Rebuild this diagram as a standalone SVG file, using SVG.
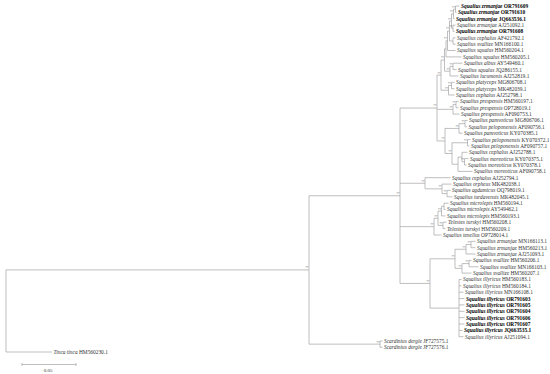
<svg xmlns="http://www.w3.org/2000/svg" width="550" height="374" viewBox="0 0 550 374">
<style>
.e{fill:none;stroke:#a3a3a3;stroke-width:0.7}
text{font-family:"Liberation Serif","Times New Roman",serif;font-size:5.4px;fill:#333}
.b{font-weight:bold;fill:#000}
.i{font-style:italic}
.s{font-size:3px;text-anchor:end;fill:#666}
.sc{font-size:5px;text-anchor:middle}
</style>
<rect width="550" height="374" fill="#fff"/>
<g id="connectors" class="e">
<path d="M455.5,6V12.4M455.5,6H459.5M455.5,12.4H456.5"/>
<path d="M453.5,9.2V18.7M453.5,9.2H455.5M453.5,18.7H454.5"/>
<path d="M453,25.1V31.4M453,25.1H455.5M453,31.4H454.5"/>
<path d="M451.5,13.95V28.25M451.5,13.95H453.5M451.5,28.25H453"/>
<path d="M453,37.8V44.2M453,37.8H455.5M453,44.2H455.5"/>
<path d="M449.5,21.1V41M449.5,21.1H451.5M449.5,41H453"/>
<path d="M447.5,31.05V50.5M447.5,31.05H449.5M447.5,50.5H455.5"/>
<path d="M446,40.78V56.9M446,40.78H447.5M446,56.9H461.5"/>
<path d="M453,63.2V69.6M453,63.2H462.5M453,69.6H456.5"/>
<path d="M450,66.4V76M450,66.4H453M450,76H458.5"/>
<path d="M444.5,48.84V71.2M444.5,48.84H446M444.5,71.2H450"/>
<path d="M451.5,82.3V88.7M451.5,82.3H454.5M451.5,88.7H454.5"/>
<path d="M448.5,85.5V95M448.5,85.5H451.5M448.5,95H454.5"/>
<path d="M441,60.02V90.25M441,60.02H444.5M441,90.25H448.5"/>
<path d="M456,101.4V107.8M456,101.4H458.5M456,107.8H458.5"/>
<path d="M453,104.6V114.1M453,104.6H456M453,114.1H459.5"/>
<path d="M465,120.5V126.8M465,120.5H467.5M465,126.8H467"/>
<path d="M459,123.65V133.2M459,123.65H465M459,133.2H462.5"/>
<path d="M467.5,139.6V145.9M467.5,139.6H470.5M467.5,145.9H469.5"/>
<path d="M464.5,158.6V165M464.5,158.6H468.5M464.5,165H466.5"/>
<path d="M462,152.3V161.8M462,152.3H467.5M462,161.8H464.5"/>
<path d="M458,157.05V171.4M458,157.05H462M458,171.4H472.5"/>
<path d="M452,142.75V164.23M452,142.75H467.5M452,164.23H458"/>
<path d="M445,128.43V153.49M445,128.43H459M445,153.49H452"/>
<path d="M437,75.14V140.96M437,75.14H441M437,109.35H453M437,140.96H445"/>
<path d="M447,190.4V196.8M447,190.4H450.5M447,196.8H452.5"/>
<path d="M442,184.1V193.6M442,184.1H451.5M442,193.6H447"/>
<path d="M425,177.7V188.85M425,177.7H450.5M425,188.85H442"/>
<path d="M444,203.2V209.5M444,203.2H448.5M444,209.5H445.5"/>
<path d="M441.5,206.35V215.9M441.5,206.35H444M441.5,215.9H445.5"/>
<path d="M443,222.2V228.6M443,222.2H446.5M443,228.6H445.5"/>
<path d="M438,211.13V225.4M438,211.13H441.5M438,225.4H443"/>
<path d="M434,218.26V235M434,218.26H438M434,235H441.5"/>
<path d="M471,241.3V247.7M471,241.3H475.5M471,247.7H475.5"/>
<path d="M466,244.5V254M466,244.5H471M466,254H475.5"/>
<path d="M469,260.4V266.8M469,260.4H471.5M469,266.8H478.5"/>
<path d="M462,263.6V273.1M462,263.6H469M462,273.1H471.5"/>
<path d="M455,249.25V268.35M455,249.25H466M455,268.35H462"/>
<path d="M459,279.5V336.7M459,279.5H461.5M459,285.8H461.5M459,292.2H463.5M459,298.6H464.5M459,304.9H464.5M459,311.3H464.5M459,317.6H464.5M459,324H464.5M459,330.4H462.5M459,336.7H463.5"/>
<path d="M430,258.8V308.1M430,258.8H455M430,308.1H459"/>
<path d="M400,108.05V283.45M400,108.05H437M400,183.28H425M400,226.63H434M400,283.45H430"/>
<path d="M309,195.75V344.15M309,195.75H400M309,344.15H380"/>
<path d="M380,341V347.3M380,341H382.5M380,347.3H382.5"/>
<path d="M6,269.9V352M6,269.9H309M6,352H52"/>
</g>
<g id="support">
<text class="s" x="455" y="8.6">**</text>
<text class="s" x="453" y="13.3">**</text>
<text class="s" x="452.5" y="27.6">**</text>
<text class="s" x="451" y="20.5">**</text>
<text class="s" x="449" y="30.4">**</text>
<text class="s" x="447" y="40.2">**</text>
<text class="s" x="452.5" y="65.8">**</text>
<text class="s" x="449.5" y="70.6">**</text>
<text class="s" x="444" y="59.4">**</text>
<text class="s" x="451" y="84.9">**</text>
<text class="s" x="448" y="89.6">**</text>
<text class="s" x="440.5" y="74.5">**</text>
<text class="s" x="455.5" y="104">**</text>
<text class="s" x="452.5" y="108.7">**</text>
<text class="s" x="436.5" y="107.4">**</text>
<text class="s" x="464.5" y="123">**</text>
<text class="s" x="458.5" y="127.8">**</text>
<text class="s" x="467" y="142.1">**</text>
<text class="s" x="464" y="161.2">**</text>
<text class="s" x="451.5" y="152.9">**</text>
<text class="s" x="444.5" y="140.3">**</text>
<text class="s" x="446.5" y="193">**</text>
<text class="s" x="441.5" y="188.2">**</text>
<text class="s" x="424.5" y="182.7">**</text>
<text class="s" x="441" y="210.5">**</text>
<text class="s" x="442.5" y="224.8">**</text>
<text class="s" x="437.5" y="217.6">**</text>
<text class="s" x="433.5" y="226">**</text>
<text class="s" x="470.5" y="243.9">**</text>
<text class="s" x="465.5" y="248.6">**</text>
<text class="s" x="468.5" y="263">**</text>
<text class="s" x="461.5" y="267.7">**</text>
<text class="s" x="454.5" y="258.2">**</text>
<text class="s" x="429.5" y="282.8">**</text>
<text class="s" x="399.5" y="195.1">**</text>
<text class="s" x="308.5" y="269.3">**</text>
<text class="s" x="379.5" y="343.5">**</text>
</g>
<g id="tip-OR791609"><text class="b" x="461" y="7.9"><tspan class="i">Squalius zrmanjae</tspan> OR791609</text></g>
<g id="tip-OR791610"><text class="b" x="458" y="14.3"><tspan class="i">Squalius zrmanjae</tspan> OR791610</text></g>
<g id="tip-JQ663536"><text class="b" x="456" y="20.6"><tspan class="i">Squalius zrmanjae</tspan> JQ663536.1</text></g>
<g id="tip-AJ251092"><text x="457" y="27"><tspan class="i">Squalius zrmanjae</tspan> AJ251092.1</text></g>
<g id="tip-OR791608"><text class="b" x="456" y="33.3"><tspan class="i">Squalius zrmanjae</tspan> OR791608</text></g>
<g id="tip-AF421792"><text x="457" y="39.7"><tspan class="i">Squalius cephalus</tspan> AF421792.1</text></g>
<g id="tip-MN166100"><text x="457" y="46.1"><tspan class="i">Squalius svallize</tspan> MN166100.1</text></g>
<g id="tip-HM560204"><text x="457" y="52.4"><tspan class="i">Squalius squalus</tspan> HM560204.1</text></g>
<g id="tip-HM560205"><text x="463" y="58.8"><tspan class="i">Squalius squalus</tspan> HM560205.1</text></g>
<g id="tip-AY549460"><text x="464" y="65.1"><tspan class="i">Squalius albus</tspan> AY549460.1</text></g>
<g id="tip-JQ286155"><text x="458" y="71.5"><tspan class="i">Squalius squalus</tspan> JQ286155.1</text></g>
<g id="tip-AJ252819"><text x="460" y="77.9"><tspan class="i">Squalius lucumonis</tspan> AJ252819.1</text></g>
<g id="tip-MG806708"><text x="456" y="84.2"><tspan class="i">Squalius platyceps</tspan> MG806708.1</text></g>
<g id="tip-MK482039"><text x="456" y="90.6"><tspan class="i">Squalius platyceps</tspan> MK482039.1</text></g>
<g id="tip-AJ252798"><text x="456" y="96.9"><tspan class="i">Squalius cephalus</tspan> AJ252798.1</text></g>
<g id="tip-HM560197"><text x="460" y="103.3"><tspan class="i">Squalius prespensis</tspan> HM560197.1</text></g>
<g id="tip-OP728019"><text x="460" y="109.7"><tspan class="i">Squalius prespensis</tspan> OP728019.1</text></g>
<g id="tip-AF090753"><text x="461" y="116"><tspan class="i">Squalius prespensis</tspan> AF090753.1</text></g>
<g id="tip-MG806706"><text x="469" y="122.4"><tspan class="i">Squalius pamvoticus</tspan> MG806706.1</text></g>
<g id="tip-AF090756"><text x="468.5" y="128.7"><tspan class="i">Squalius peloponensis</tspan> AF090756.1</text></g>
<g id="tip-KY070385"><text x="464" y="135.1"><tspan class="i">Squalius pamvoticus</tspan> KY070385.1</text></g>
<g id="tip-KY070372"><text x="472" y="141.5"><tspan class="i">Squalius peloponensis</tspan> KY070372.1</text></g>
<g id="tip-AF090757"><text x="471" y="147.8"><tspan class="i">Squalius peloponensis</tspan> AF090757.1</text></g>
<g id="tip-AJ252788"><text x="469" y="154.2"><tspan class="i">Squalius cephalus</tspan> AJ252788.1</text></g>
<g id="tip-KY070375"><text x="470" y="160.5"><tspan class="i">Squalius moreoticus</tspan> KY070375.1</text></g>
<g id="tip-KY070378"><text x="468" y="166.9"><tspan class="i">Squalius moreoticus</tspan> KY070378.1</text></g>
<g id="tip-AF090758"><text x="474" y="173.3"><tspan class="i">Squalius moreoticus</tspan> AF090758.1</text></g>
<g id="tip-AJ252794"><text x="452" y="179.6"><tspan class="i">Squalius cephalus</tspan> AJ252794.1</text></g>
<g id="tip-MK482038"><text x="453" y="186"><tspan class="i">Squalius orpheus</tspan> MK482038.1</text></g>
<g id="tip-OQ798019"><text x="452" y="192.3"><tspan class="i">Squalius agdamicus</tspan> OQ798019.1</text></g>
<g id="tip-MK482045"><text x="454" y="198.7"><tspan class="i">Squalius turdavensis</tspan> MK482045.1</text></g>
<g id="tip-HM560194"><text x="450" y="205.1"><tspan class="i">Squalius microlepis</tspan> HM560194.1</text></g>
<g id="tip-AY549462"><text x="447" y="211.4"><tspan class="i">Squalius microlepis</tspan> AY549462.1</text></g>
<g id="tip-HM560193"><text x="447" y="217.8"><tspan class="i">Squalius microlepis</tspan> HM560193.1</text></g>
<g id="tip-HM560208"><text x="448" y="224.1"><tspan class="i">Telestes turskyi</tspan> HM560208.1</text></g>
<g id="tip-HM560209"><text x="447" y="230.5"><tspan class="i">Telestes turskyi</tspan> HM560209.1</text></g>
<g id="tip-OP728014"><text x="443" y="236.9"><tspan class="i">Squalius tenellus</tspan> OP728014.1</text></g>
<g id="tip-MN166113"><text x="477" y="243.2"><tspan class="i">Squalius zrmanjae</tspan> MN166113.1</text></g>
<g id="tip-HM560213"><text x="477" y="249.6"><tspan class="i">Squalius zrmanjae</tspan> HM560213.1</text></g>
<g id="tip-AJ251093"><text x="477" y="255.9"><tspan class="i">Squalius zrmanjae</tspan> AJ251093.1</text></g>
<g id="tip-HM560206"><text x="473" y="262.3"><tspan class="i">Squalius svallize</tspan> HM560206.1</text></g>
<g id="tip-MN166103"><text x="480" y="268.7"><tspan class="i">Squalius svallize</tspan> MN166103.1</text></g>
<g id="tip-HM560207"><text x="473" y="275"><tspan class="i">Squalius svallize</tspan> HM560207.1</text></g>
<g id="tip-HM560183"><text x="463" y="281.4"><tspan class="i">Squalius illyricus</tspan> HM560183.1</text></g>
<g id="tip-HM560184"><text x="463" y="287.7"><tspan class="i">Squalius illyricus</tspan> HM560184.1</text></g>
<g id="tip-MN166108"><text x="465" y="294.1"><tspan class="i">Squalius illyricus</tspan> MN166108.1</text></g>
<g id="tip-OR791603"><text class="b" x="466" y="300.5"><tspan class="i">Squalius illyricus</tspan> OR791603</text></g>
<g id="tip-OR791605"><text class="b" x="466" y="306.8"><tspan class="i">Squalius illyricus</tspan> OR791605</text></g>
<g id="tip-OR791604"><text class="b" x="466" y="313.2"><tspan class="i">Squalius illyricus</tspan> OR791604</text></g>
<g id="tip-OR791606"><text class="b" x="466" y="319.5"><tspan class="i">Squalius illyricus</tspan> OR791606</text></g>
<g id="tip-OR791607"><text class="b" x="466" y="325.9"><tspan class="i">Squalius illyricus</tspan> OR791607</text></g>
<g id="tip-JQ663535"><text class="b" x="464" y="332.3"><tspan class="i">Squalius illyricus</tspan> JQ663535.1</text></g>
<g id="tip-AJ251094"><text x="465" y="338.6"><tspan class="i">Squalius illyricus</tspan> AJ251094.1</text></g>
<g id="tip-JF727575"><text x="384" y="342.9"><tspan class="i">Scardinius dergle</tspan> JF727575.1</text></g>
<g id="tip-JF727576"><text x="384" y="349.2"><tspan class="i">Scardinius dergle</tspan> JF727576.1</text></g>
<g id="tip-HM560230"><text x="53.5" y="353.9"><tspan class="i">Tinca tinca</tspan> HM560230.1</text></g>
<g id="scale-bar">
<path class="e" d="M22,364.5H76M22,363V366M76,363V366"/>
<text class="sc" x="48" y="372">0.05</text>
</g>
</svg>
